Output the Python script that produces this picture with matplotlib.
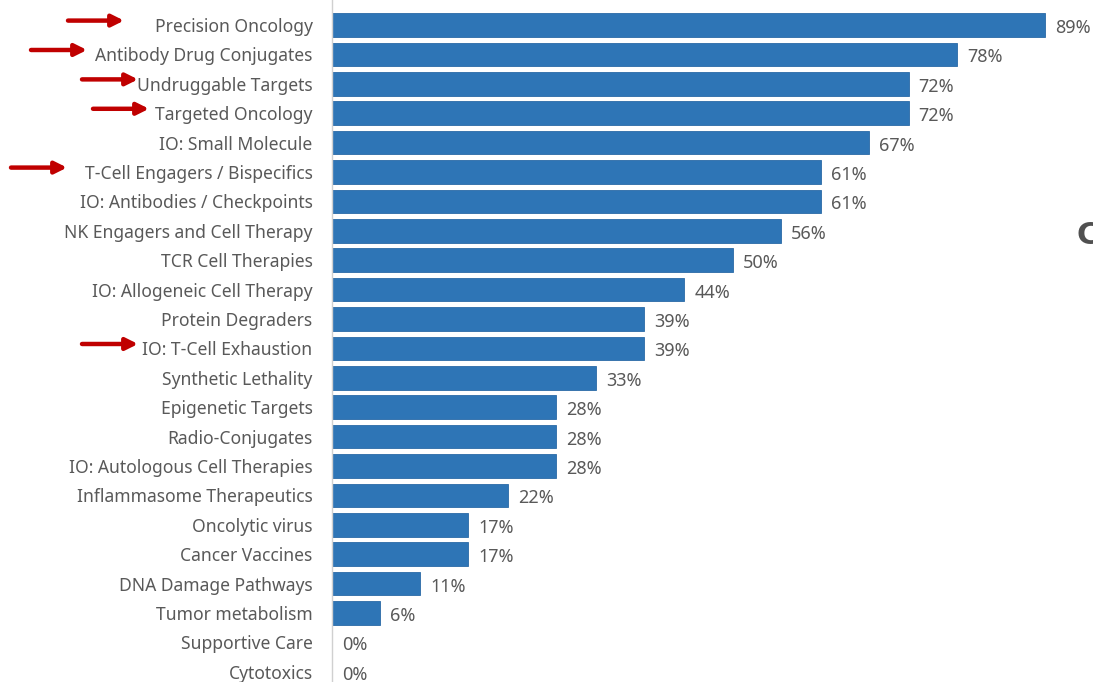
import matplotlib
matplotlib.use("Agg")

import matplotlib.pyplot as plt
import matplotlib.transforms as mtransforms

# Share of respondents per therapeutic area (%)
categories = [
    "Precision Oncology", "Antibody Drug Conjugates", "Undruggable Targets",
    "Targeted Oncology", "IO: Small Molecule", "T-Cell Engagers / Bispecifics",
    "IO: Antibodies / Checkpoints", "NK Engagers and Cell Therapy",
    "TCR Cell Therapies", "IO: Allogeneic Cell Therapy", "Protein Degraders",
    "IO: T-Cell Exhaustion", "Synthetic Lethality", "Epigenetic Targets",
    "Radio-Conjugates", "IO: Autologous Cell Therapies",
    "Inflammasome Therapeutics", "Oncolytic virus", "Cancer Vaccines",
    "DNA Damage Pathways", "Tumor metabolism", "Supportive Care", "Cytotoxics",
]
values = [89, 78, 72, 72, 67, 61, 61, 56, 50, 44, 39, 39, 33, 28, 28, 28,
          22, 17, 17, 11, 6, 0, 0]

# categories flagged with a red arrow, and arrow tail/tip in figure pixels
highlighted = {
    "Precision Oncology": (68, 124),
    "Antibody Drug Conjugates": (31, 87),
    "Undruggable Targets": (82, 138),
    "Targeted Oncology": (93, 149),
    "T-Cell Engagers / Bispecifics": (11, 67),
    "IO: T-Cell Exhaustion": (82, 138),
}

BAR = "#2E75B6"
TXT = "#595959"
W, H = 1093, 682

plt.rcParams["font.family"] = ["Noto Sans", "DejaVu Sans"]

fig = plt.figure(figsize=(W / 100, H / 100), dpi=100)
ax = fig.add_axes([332 / W, 0, 1 - 332 / W, 1])

ypos = list(range(len(categories)))
ax.barh(ypos, values, height=0.8, color=BAR, edgecolor="#2A6AA6", linewidth=0.6)

ax.set_xlim(0, (W - 332) / 8.01)
ax.set_ylim((H - 25) / 29.4, -25 / 29.4)

for s in ["top", "right", "bottom"]:
    ax.spines[s].set_visible(False)
ax.spines["left"].set_color("#D0D0D0")
ax.spines["left"].set_linewidth(1.0)
ax.set_xticks([])
ax.set_yticks(ypos)
ax.set_yticklabels(categories, fontsize=12.6, color=TXT)
ax.tick_params(axis="y", length=0, pad=14)

for y, v in zip(ypos, values):
    ax.annotate(f"{v}%", (v, y), xytext=(10, -3), textcoords="offset pixels",
                va="center", ha="left", fontsize=13, color=TXT)

# red arrows pointing at the flagged labels
to_fig_px = mtransforms.blended_transform_factory(
    mtransforms.IdentityTransform(), ax.transData)
for name, (x0, x1) in highlighted.items():
    y = categories.index(name) - 0.15
    ax.annotate("", xy=(x1, y), xytext=(x0, y),
                xycoords=to_fig_px, textcoords=to_fig_px,
                annotation_clip=False,
                arrowprops=dict(arrowstyle="-|>,head_length=0.7,head_width=0.35",
                                color="#C00000", lw=3.2, shrinkA=0, shrinkB=0))

fig.text(1077 / W, 1 - 236 / H, "C", fontsize=22, color="#505050",
         va="center", ha="left", fontweight="bold", family="DejaVu Sans")

fig.savefig("out.png", dpi=100)
